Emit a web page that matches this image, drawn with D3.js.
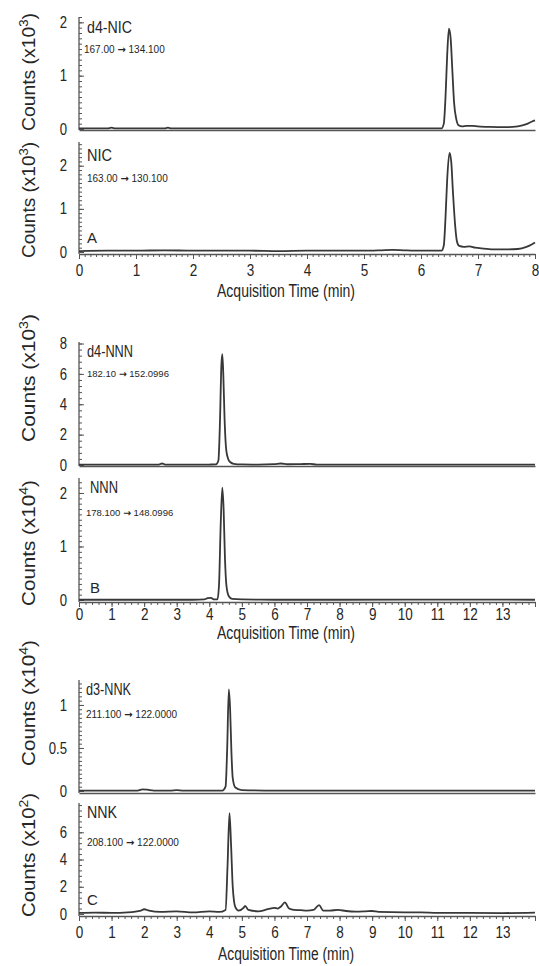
<!DOCTYPE html>
<html><head><meta charset="utf-8">
<script src="https://cdn.jsdelivr.net/npm/d3@7"></script>
<style>body{margin:0;background:#fff}svg{display:block}</style>
</head><body>
<svg id="chart" width="539" height="966"></svg>
<script>
// ---------- DATA (time in min, counts in the panel's scale unit) ----------
const nicTimeTicks = [0,1,2,3,4,5,6,7,8];
const nnTimeTicks  = [0,1,2,3,4,5,6,7,8,9,10,11,12,13];

const d4NicTrace = [[0,0.01],[0.5,0.01],[0.57,0.025],[0.64,0.01],[1.5,0.01],[1.56,0.025],[1.62,0.01],[3,0.01],[4.5,0.01],[6.0,0.01],[6.36,0.01],[6.4,0.1],[6.43,0.6],[6.46,1.4],[6.49,1.88],[6.52,1.7],[6.55,1.1],[6.58,0.5],[6.62,0.18],[6.66,0.07],[6.72,0.05],[6.8,0.06],[6.9,0.06],[7.0,0.05],[7.2,0.04],[7.5,0.035],[7.7,0.05],[7.85,0.09],[7.95,0.14],[8.0,0.16]];
const nicTrace = [[0,0.02],[0.5,0.03],[1,0.03],[1.5,0.04],[2,0.03],[2.5,0.03],[3,0.03],[3.5,0.02],[4,0.03],[4.5,0.03],[5,0.03],[5.3,0.04],[5.5,0.05],[5.7,0.04],[6,0.03],[6.36,0.03],[6.4,0.15],[6.43,0.8],[6.46,1.7],[6.5,2.3],[6.53,2.1],[6.56,1.4],[6.6,0.6],[6.63,0.25],[6.67,0.14],[6.75,0.12],[6.85,0.13],[6.95,0.1],[7.1,0.08],[7.3,0.06],[7.5,0.06],[7.7,0.07],[7.85,0.12],[7.95,0.18],[8.0,0.22]];
const d4NnnTrace = [[0,0.02],[1,0.02],[2,0.02],[2.45,0.03],[2.55,0.1],[2.65,0.03],[3,0.02],[3.5,0.02],[4.0,0.03],[4.2,0.04],[4.28,0.3],[4.33,3.0],[4.37,6.5],[4.4,7.3],[4.43,6.0],[4.47,3.0],[4.52,1.0],[4.58,0.4],[4.65,0.18],[4.75,0.08],[5,0.04],[5.5,0.03],[6.0,0.06],[6.2,0.1],[6.4,0.05],[6.8,0.06],[7.1,0.07],[7.3,0.03],[8,0.02],[10,0.02],[12,0.02],[14,0.02]];
const nnnTrace = [[0,0.005],[2,0.005],[3.5,0.005],[3.85,0.01],[3.95,0.035],[4.05,0.04],[4.15,0.01],[4.25,0.01],[4.3,0.3],[4.35,1.4],[4.4,2.1],[4.44,1.7],[4.48,0.8],[4.53,0.25],[4.6,0.07],[4.7,0.02],[5,0.01],[6,0.005],[8,0.005],[10,0.008],[14,0.005]];
const d3NnkTrace = [[0,0.005],[1.8,0.005],[1.95,0.02],[2.1,0.015],[2.3,0.005],[2.8,0.005],[3.0,0.01],[3.2,0.005],[4.4,0.005],[4.5,0.05],[4.55,0.5],[4.6,1.18],[4.64,0.95],[4.68,0.45],[4.72,0.15],[4.8,0.04],[5,0.01],[6,0.005],[14,0.005]];
const nnkTrace = [[0,0.08],[0.5,0.1],[1,0.08],[1.5,0.12],[1.9,0.25],[2.0,0.35],[2.15,0.25],[2.5,0.15],[3.0,0.2],[3.5,0.12],[4.0,0.2],[4.3,0.15],[4.5,0.3],[4.56,3.5],[4.62,7.4],[4.67,5.0],[4.72,2.0],[4.8,0.5],[4.9,0.25],[5.05,0.45],[5.1,0.6],[5.2,0.3],[5.5,0.2],[5.8,0.35],[6.0,0.45],[6.1,0.4],[6.2,0.55],[6.32,0.85],[6.45,0.4],[6.6,0.3],[6.8,0.28],[7.0,0.25],[7.2,0.3],[7.37,0.65],[7.5,0.25],[7.7,0.25],[7.95,0.3],[8.2,0.22],[8.5,0.18],[8.8,0.2],[9.0,0.22],[9.2,0.15],[10,0.12],[10.5,0.12],[11,0.08],[12,0.08],[13,0.07],[14,0.1]];

const panelNames = ["d4-NIC","NIC","d4-NNN","NNN","d3-NNK","NNK"];
const precursorIons = ["167.00","163.00","182.10","178.100","211.100","208.100"];
const productIons = ["134.100","130.100","152.0996","148.0996","122.0000","122.0000"];
const exponents = ["3","3","3","4","4","2"];
const yTickValues = [[0,1,2],[0,1,2],[0,2,4,6,8],[0,1,2],[0,0.5,1],[0,2,4,6]];
const yMaxValues = [2.1,2.55,8.1,2.28,1.29,8.15];
const yMinorSteps = [0.1,0.1,0.4,0.1,0.05,0.4];
const groupLetters = ["A","B","C"];

// ---------- LAYOUT ----------
const svg = d3.select("#chart");
const FONT = "'Liberation Sans', Arial, sans-serif";
const AX = "#555", INK = "#262626", TRACE = "#383838";
const xLeft = 79, xRight = 535;

const groups = [
  {ticks: nicTimeTicks, max: 8, minor: 0.1, pad: 5, letter: {x:87,y:243}, title:{y:297, len:138}},
  {ticks: nnTimeTicks, max: 14, minor: 0.2, pad: 1, letter: {x:90,y:593}, title:{y:639, len:138}},
  {ticks: nnTimeTicks, max: 14, minor: 0.2, pad: 5, letter: {x:87,y:905}, title:{y:960, len:136}}
];
const layout = [
  {g:0, top:17,  zero:129, line:130, name:{x:87,y:33,len:45,fs:16}, tr:{x:84,y:53,fs:10}, yt:{c:72,len:118}},
  {g:0, top:142, zero:252, line:254, name:{x:87,y:161,len:25,fs:17}, tr:{x:87,y:182,fs:10}, yt:{c:200,len:116}},
  {g:1, top:342, zero:465, line:466, name:{x:87,y:357,len:46,fs:16}, tr:{x:87,y:377,fs:9.5}, yt:{c:378,len:128}},
  {g:1, top:478, zero:600, line:602, name:{x:90,y:493,len:28,fs:16}, tr:{x:86,y:516,fs:9.5}, yt:{c:543,len:126}},
  {g:2, top:680, zero:791, line:793, name:{x:86,y:695,len:45,fs:16}, tr:{x:86,y:718,fs:10}, yt:{c:703,len:126}},
  {g:2, top:803, zero:914, line:916, name:{x:87,y:818,len:30,fs:16}, tr:{x:87,y:846,fs:10}, yt:{c:855,len:124}}
];
const traces = [d4NicTrace, nicTrace, d4NnnTrace, nnnTrace, d3NnkTrace, nnkTrace];

const xScales = groups.map(g => d3.scaleLinear().domain([0, g.max]).range([xLeft, xRight]));

function label(x, y, str, fs, len, anchor) {
  const t = svg.append("text").attr("x", x).attr("y", y)
    .attr("font-family", FONT).attr("font-size", fs).attr("fill", INK)
    .attr("text-anchor", anchor || "start").text(str);
  if (len) t.attr("textLength", len).attr("lengthAdjust", "spacingAndGlyphs");
  return t;
}

function styleAxis(g) {
  g.selectAll("path.domain").attr("stroke", AX).attr("stroke-width", 1.3);
  g.selectAll(".tick line").attr("stroke", AX).attr("stroke-width", 1);
}

layout.forEach((p, i) => {
  const grp = groups[p.g];
  const x = xScales[p.g];
  const y = d3.scaleLinear().domain([0, yMaxValues[i]]).range([p.zero, p.top]);

  // y axis (ticks point inward)
  const yMinor = d3.range(0, yMaxValues[i] + 1e-9, yMinorSteps[i]);
  const gy = svg.append("g").attr("transform", `translate(${xLeft},0)`);
  gy.call(d3.axisLeft(y).tickValues(yMinor).tickSize(-3).tickSizeOuter(0).tickFormat(""));
  gy.select("path.domain").attr("d", `M0,${p.line}V${p.top}`);
  styleAxis(gy);
  const gyM = svg.append("g").attr("transform", `translate(${xLeft},0)`);
  gyM.call(d3.axisLeft(y).tickValues(yTickValues[i]).tickSize(-5).tickSizeOuter(0).tickPadding(12).tickFormat(d3.format("")));
  gyM.select("path.domain").remove();
  styleAxis(gyM);
  gyM.selectAll("text").attr("font-family", FONT).attr("font-size", 16).attr("fill", INK)
    .attr("x", -12 / 0.82).attr("transform", "scale(0.82,1)");

  // bottom line / x axis
  const isLower = i % 2 === 1;
  if (isLower) {
    const xMinor = d3.range(0, grp.max + 1e-9, grp.minor);
    const gx = svg.append("g").attr("transform", `translate(0,${p.line})`);
    gx.call(d3.axisBottom(x).tickValues(xMinor).tickSize(3).tickSizeOuter(0).tickFormat(""));
    styleAxis(gx);
    const gxM = svg.append("g").attr("transform", `translate(0,${p.line})`);
    gxM.call(d3.axisBottom(x).tickValues(d3.range(0, grp.max + 1e-9, 1)).tickSize(5).tickSizeOuter(0)
      .tickPadding(grp.pad).tickFormat(d => grp.ticks.includes(d) ? d : ""));
    gxM.select("path.domain").remove();
    styleAxis(gxM);
    gxM.selectAll("text").attr("font-family", FONT).attr("font-size", 16.5).attr("fill", INK)
      .attr("transform", "scale(0.82,1)");
    label((xLeft + xRight) / 2 - 21, grp.title.y, "Acquisition Time (min)", 17.5, grp.title.len, "middle");
    label(grp.letter.x, grp.letter.y, groupLetters[p.g], 15);
  } else {
    const gx = svg.append("g").attr("transform", `translate(0,${p.line})`);
    gx.call(d3.axisBottom(x).tickValues([]).tickSizeOuter(0));
    styleAxis(gx);
  }

  // trace
  svg.append("path").datum(traces[i])
    .attr("fill", "none").attr("stroke", TRACE).attr("stroke-width", 1.8).attr("stroke-linejoin", "round")
    .attr("d", d3.line().x(d => x(d[0])).y(d => y(d[1])).curve(d3.curveMonotoneX));

  // labels
  label(p.name.x, p.name.y, panelNames[i], p.name.fs, p.name.len);
  const tr = svg.append("text").attr("x", p.tr.x).attr("y", p.tr.y)
    .attr("font-family", FONT).attr("font-size", p.tr.fs).attr("fill", INK);
  tr.append("tspan").text(precursorIons[i] + " ");
  tr.append("tspan").attr("font-family", "'DejaVu Sans', sans-serif").attr("font-weight", "bold").text("\u2192");
  tr.append("tspan").text(" " + productIons[i]);

  // y title
  const yt = svg.append("text").attr("transform", `translate(35,${p.yt.c}) rotate(-90)`)
    .attr("font-family", FONT).attr("font-size", 19).attr("fill", INK).attr("text-anchor", "middle")
    .attr("textLength", p.yt.len).attr("lengthAdjust", "spacingAndGlyphs");
  yt.append("tspan").text("Counts (x10");
  yt.append("tspan").attr("dy", -7).attr("font-size", 13).text(exponents[i]);
  yt.append("tspan").attr("dy", 7).text(")");
});
</script>
</body></html>
